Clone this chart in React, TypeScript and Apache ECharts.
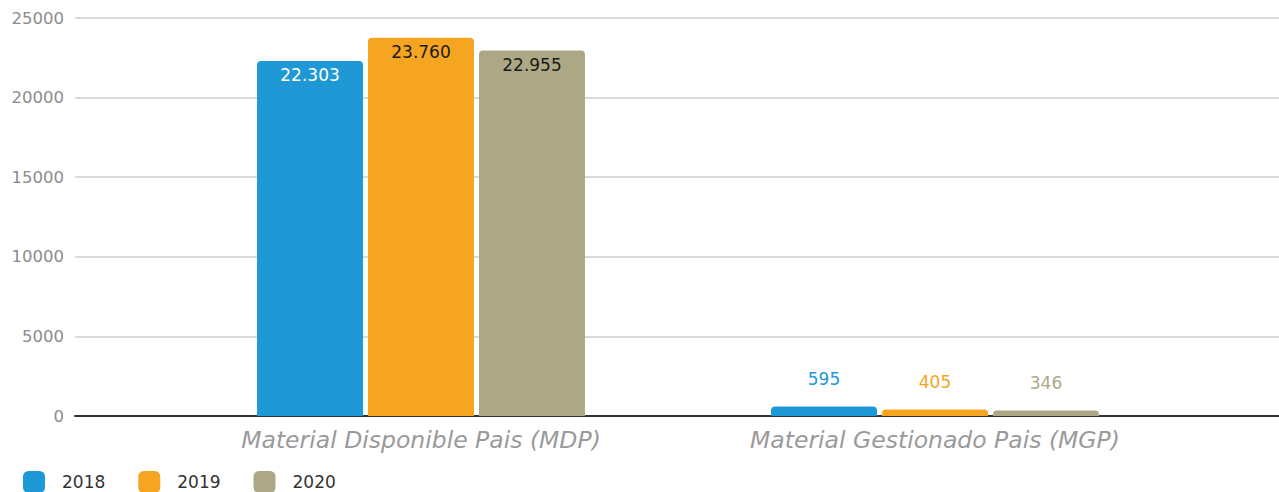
import React, { useEffect, useRef } from "react";
import * as echarts from "echarts";

const categories = ["Material Disponible Pais (MDP)", "Material Gestionado Pais (MGP)"];
const years = ["2018", "2019", "2020"];
const values2018 = [22303, 595];
const values2019 = [23760, 405];
const values2020 = [22955, 346];
const yTicks = [0, 5000, 10000, 15000, 20000, 25000];

const colors = ["#1e99d6", "#f6a520", "#aca886"];
const insideLabelColors = ["#ffffff", "#1a1a1a", "#1a1a1a"];
const FONT = "DejaVu Sans";

const fmt = (v: number) => String(v).replace(/\B(?=(\d{3})+(?!\d))/g, ".");

export default function App() {
  const ref = useRef<HTMLDivElement>(null);
  useEffect(() => {
    if (!ref.current) return;
    const chart = echarts.init(ref.current, undefined, { renderer: "svg" });
    const seriesValues = [values2018, values2019, values2020];
    const series = years.map((y, si) => ({
      name: y,
      type: "bar",
      xAxisIndex: 1,
      yAxisIndex: 1,
      barWidth: 106,
      barGap: "4.7%",
      itemStyle: { color: colors[si], borderRadius: [4, 4, 0, 0] },
      data: seriesValues[si].map((v, ci) => ({
        value: v,
        label:
          ci === 0
            ? {
                show: true,
                position: "insideTop",
                distance: 6,
                color: insideLabelColors[si],
                fontSize: 17,
                fontFamily: FONT,
                formatter: () => fmt(v),
              }
            : {
                show: true,
                position: "top",
                distance: 19,
                color: colors[si],
                fontSize: 17,
                fontFamily: FONT,
                formatter: () => fmt(v),
              },
      })),
    }));
    chart.setOption({
      animation: false,
      textStyle: { fontFamily: FONT },
      legend: {
        left: 18,
        top: 466,
        itemWidth: 22,
        itemHeight: 22,
        itemGap: 33,
        icon: "roundRect",
        data: years,
        textStyle: { fontSize: 17, color: "#333", fontFamily: FONT, padding: [0, 0, 0, 12] },
      },
      grid: [
        { left: 75, right: 0, top: 18, bottom: 76 },
        { left: 164, right: 87, top: 18, bottom: 76 },
      ],
      xAxis: [
        {
          type: "category",
          gridIndex: 0,
          data: [""],
          axisLine: { show: true, lineStyle: { color: "#333", width: 2 } },
          axisTick: { show: false },
          axisLabel: { show: false },
          splitLine: { show: false },
        },
        {
          type: "category",
          gridIndex: 1,
          data: categories,
          axisLine: { show: false },
          axisTick: { show: false },
          axisLabel: {
            color: "#9a9a9a",
            fontSize: 23.5,
            fontStyle: "italic",
            fontFamily: FONT,
            margin: 12,
          },
        },
      ],
      yAxis: [
        {
          type: "value",
          gridIndex: 0,
          min: yTicks[0],
          max: yTicks[yTicks.length - 1],
          interval: yTicks[1] - yTicks[0],
          axisLine: { show: false },
          axisTick: { show: false },
          axisLabel: {
            color: "#8c8c8c",
            fontSize: 16.5,
            fontFamily: FONT,
            margin: 11,
            formatter: (v: number) => String(v),
          },
          splitLine: { lineStyle: { color: "#cccccc", width: 1.5 } },
        },
        {
          type: "value",
          gridIndex: 1,
          min: yTicks[0],
          max: yTicks[yTicks.length - 1],
          show: false,
        },
      ],
      series,
    });
    return () => chart.dispose();
  }, []);
  return (
    <div
      ref={ref}
      style={{ position: "fixed", left: 0, top: 0, width: 1279, height: 492, background: "#fff" }}
    />
  );
}
